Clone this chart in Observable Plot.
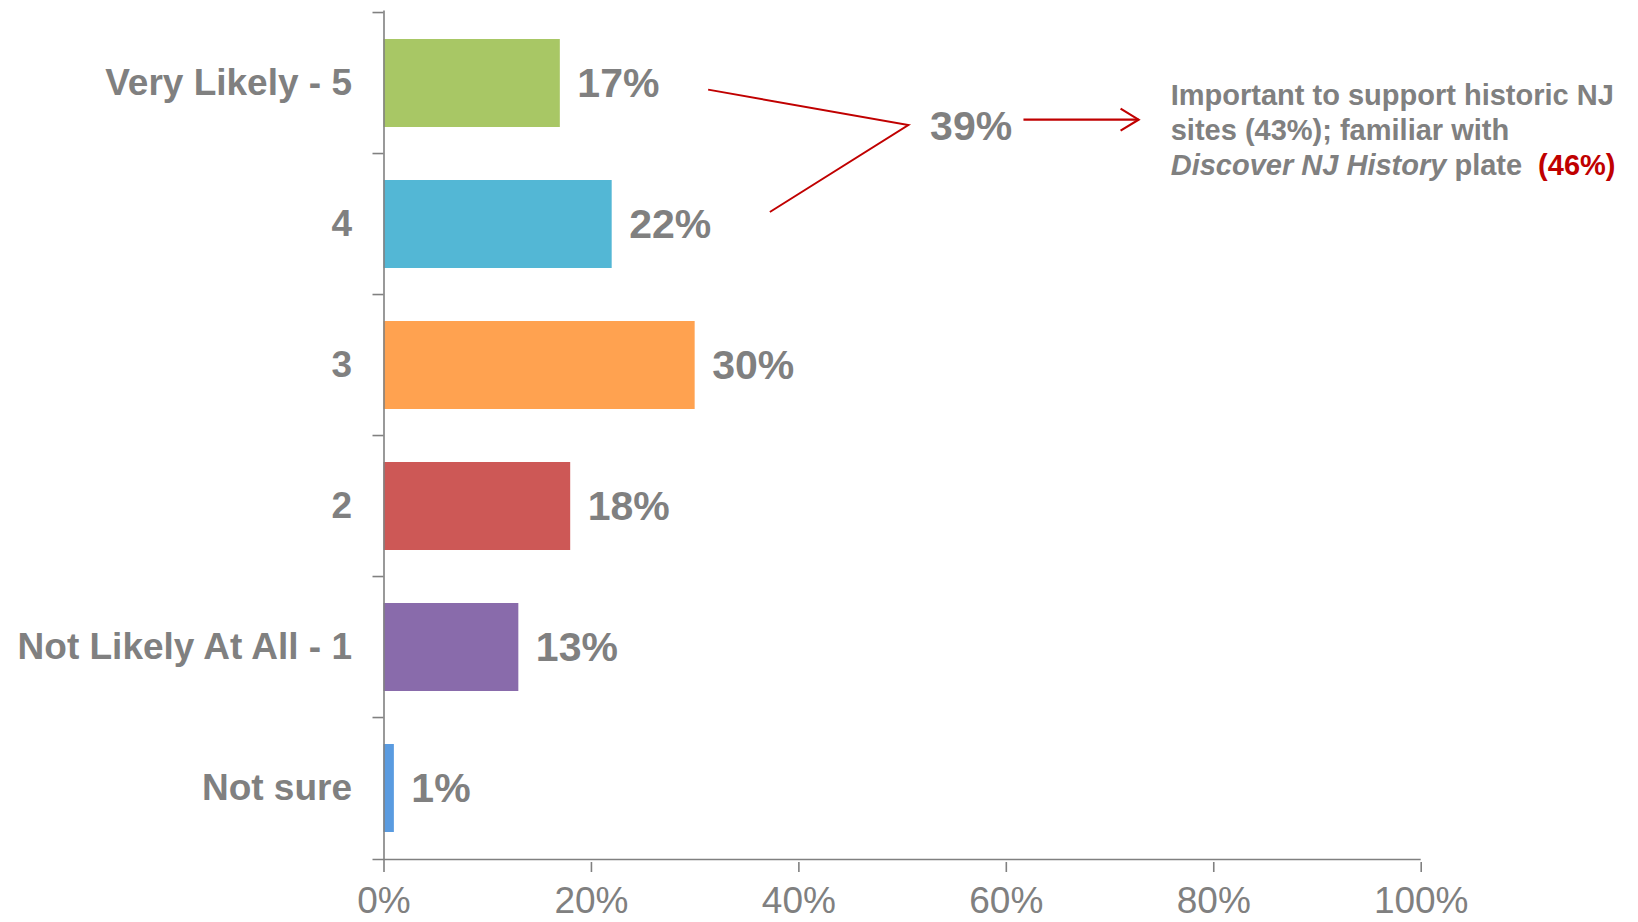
<!DOCTYPE html>
<html><head><meta charset="utf-8">
<script src="https://cdn.jsdelivr.net/npm/d3@7"></script>
<script src="https://cdn.jsdelivr.net/npm/@observablehq/plot@0.6"></script>
<style>
html,body{margin:0;padding:0;background:#fff;}
#chart svg{display:block;}
</style></head><body><div id="chart"></div>
<script>
// ---- data ----
const categories = ["Very Likely - 5", "4", "3", "2", "Not Likely At All - 1", "Not sure"];
const values = [17, 22, 30, 18, 13, 1];
const colors = ["#A8C765", "#53B7D5", "#FFA250", "#CD5856", "#896BAB", "#5A9BE0"];
const xTicks = [0, 20, 40, 60, 80, 100];
const groupTotal = "39%";
const noteLine1 = "Important to support historic NJ";
const noteLine2 = "sites (43%); familiar with";
const noteItalic = "Discover NJ History";
const notePlain = " plate";
const noteRed = "(46%)";
// annotation anchors: x in percent, y in category-index units (0 = first bar centre)
const bracketPts = [[31.3, 0.047], [50.6, 0.298], [37.25, 0.915]];
const arrowPts = [[61.7, 0.26], [72.8, 0.26]];
const totalPos = [52.7, 0.30];
const notePos = [75.9, 0.085];
const noteStep = 0.247;

const data = categories.map((c, i) => ({category: c, value: values[i]}));

const W = 1638, H = 922, mT = 10.4, mB = 60, mL = 383.5, mR = 217.3;
const step = (H - mT - mB) / categories.length;
const gray = "#808080";
const red = "#C00000";
const font = "'Liberation Sans', Arial, Helvetica, sans-serif";

const chart = Plot.plot({
  width: W, height: H,
  marginTop: mT, marginBottom: mB, marginLeft: mL, marginRight: mR,
  style: {fontFamily: font, background: "#fff", color: gray, overflow: "visible"},
  x: {domain: [0, 100]},
  y: {domain: categories, paddingInner: 0.373, paddingOuter: 0.1865},
  color: {domain: categories, range: colors},
  marks: [
    Plot.barX(data, {x: "value", y: "category", fill: "category"}),
    Plot.ruleX([0], {stroke: gray, strokeWidth: 1.6}),
    Plot.ruleY(categories, {y: d => d, x1: 0, x2: 0, insetLeft: -11, dy: -step / 2, stroke: gray, strokeWidth: 1.6}),
    Plot.ruleY([categories[categories.length - 1]], {y: d => d, x1: 0, x2: 100, insetLeft: -11, dy: step / 2, stroke: gray, strokeWidth: 1.6}),
    Plot.axisY({tickSize: 0, tickPadding: 32, fontSize: 37, fontWeight: "bold", fill: gray, label: null}),
    Plot.axisX({ticks: xTicks, tickFormat: d => d + "%", tickSize: 10, tickPadding: 14, fontSize: 37, stroke: gray, strokeWidth: 1.6, fill: gray, label: null}),
    Plot.text(data, {x: "value", y: "category", text: d => d.value + "%", textAnchor: "start", dx: 17, fontSize: 41, fontWeight: "bold", fill: gray})
  ]
});

document.getElementById("chart").appendChild(chart);

// ---- annotation, positioned through the chart's scales ----
const xs = chart.scale("x"), ys = chart.scale("y");
const c0 = ys.apply(categories[0]) + ys.bandwidth / 2;
const px = v => xs.apply(v);
const py = f => c0 + f * ys.step;
const svg = d3.select(chart.tagName.toLowerCase() === "svg" ? chart : chart.querySelector("svg"));
const g = svg.append("g").attr("text-anchor", "start");

g.append("polyline")
  .attr("points", bracketPts.map(([x, y]) => `${px(x)},${py(y)}`).join(" "))
  .attr("fill", "none").attr("stroke", red).attr("stroke-width", 2);

const ax1 = px(arrowPts[0][0]), ay = py(arrowPts[0][1]), ax2 = px(arrowPts[1][0]);
g.append("line").attr("x1", ax1).attr("y1", ay).attr("x2", ax2).attr("y2", ay)
  .attr("stroke", red).attr("stroke-width", 2.2);
g.append("polyline")
  .attr("points", `${ax2 - 18},${ay - 11} ${ax2},${ay} ${ax2 - 18},${ay + 11}`)
  .attr("fill", "none").attr("stroke", red).attr("stroke-width", 2.2);

g.append("text").attr("x", px(totalPos[0])).attr("y", py(totalPos[1]))
  .attr("text-anchor", "start")
  .attr("dy", "0.35em").attr("font-size", 41).attr("font-weight", "bold")
  .attr("fill", gray).attr("font-family", font).text(groupTotal);

const nx = px(notePos[0]);
const nt = g.append("text").attr("font-size", 29).attr("font-weight", "bold")
  .attr("text-anchor", "start")
  .attr("fill", gray).attr("font-family", font);
nt.append("tspan").attr("x", nx).attr("y", py(notePos[1])).attr("dy", "0.35em").text(noteLine1);
nt.append("tspan").attr("x", nx).attr("y", py(notePos[1] + noteStep)).attr("dy", "0.35em").text(noteLine2);
nt.append("tspan").attr("x", nx).attr("y", py(notePos[1] + 2 * noteStep)).attr("dy", "0.35em")
  .attr("font-style", "italic").text(noteItalic);
nt.append("tspan").text(notePlain);
nt.append("tspan").attr("dx", 16).attr("fill", red).text(noteRed);
</script></body></html>
